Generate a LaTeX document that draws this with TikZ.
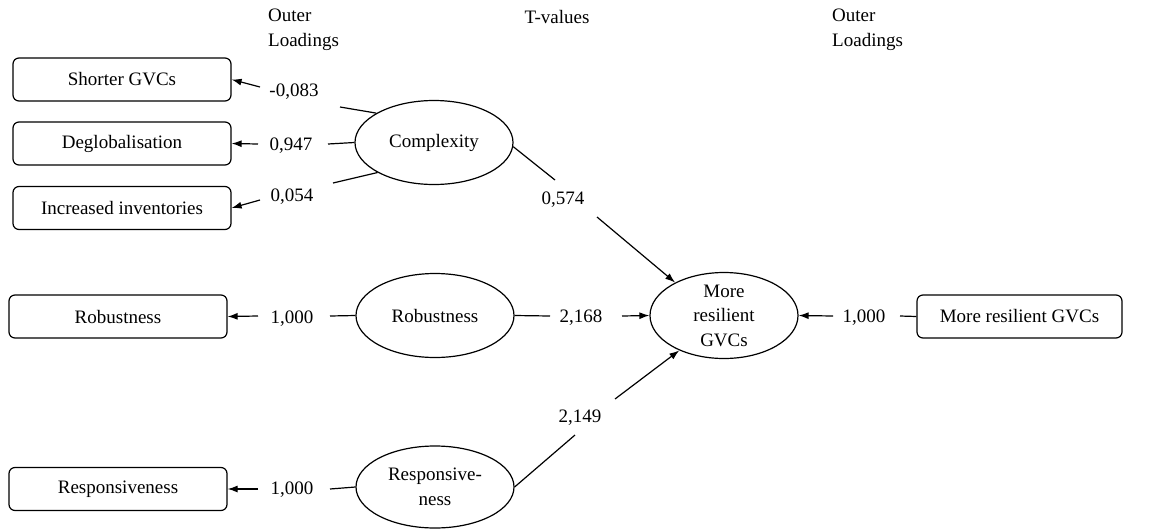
\documentclass[tikz,border=0pt]{standalone}
\usepackage{fontspec}
\setmainfont{Liberation Serif}
\usetikzlibrary{shapes.geometric,arrows.meta}
\begin{document}
\begin{tikzpicture}[x=1pt,y=-1pt,
  every node/.style={font=\fontsize{19}{24.5}\selectfont, text=black},
  ind/.style={draw, rounded corners=6pt, line width=1.2pt, minimum width=218pt, minimum height=43pt, inner sep=0pt},
  lat/.style={draw, ellipse, line width=1.2pt, minimum width=158pt, minimum height=84pt, inner sep=0pt, align=center},
  val/.style={inner sep=0pt},
  conn/.style={line width=1.2pt},
  arr/.style={line width=1.2pt, -{Latex[length=10pt,width=7pt]}}
]
\useasboundingbox (0,0) rectangle (1154,528);

% indicator boxes
\node[ind] (b1) at (122,79.5) {Shorter GVCs};
\node[ind] (b2) at (122,143.5) {Deglobalisation};
\node[ind] (b3) at (122,208) {Increased inventories};
\node[ind] (b4) at (118,316.5) {Robustness};
\node[ind] (b5) at (118,489) {Responsiveness};
\node[ind, minimum width=205pt] (b6) at (1019.5,316.5) {More resilient GVCs};

% latent variables
\node[lat] (cx) at (434,142.5) {Complexity};
\node[lat] (rb) at (435,315.5) {Robustness};
\node[lat, minimum height=82pt] (rs) at (435,487) {Responsive-\\ness};
\node[lat, minimum width=148pt, minimum height=86pt] (mr) at (724,315.5) {};
\node[align=center, inner sep=0pt] (mrt) at (mr.center) {More\\resilient\\GVCs};

% headers
\node[align=left, anchor=west, inner sep=0pt] (ol1) at (268,30) {Outer\\Loadings};
\node[inner sep=0pt] (tv) at (557,17) {T-values};
\node[align=left, anchor=west, inner sep=0pt] (ol2) at (832,30) {Outer\\Loadings};

% values
\node[val] (v1) at (294,92) {-0,083};
\node[val] (v2) at (291,146) {0,947};
\node[val] (v3) at (292,197) {0,054};
\node[val] (v4) at (292,319) {1,000};
\node[val] (v5) at (292,490) {1,000};
\node[val] (v6) at (563,200) {0,574};
\node[val] (v7) at (581,318) {2,168};
\node[val] (v8) at (580,418) {2,149};
\node[val] (v9) at (864,318) {1,000};

% connector break points
\coordinate (c1a) at (340,107); \coordinate (c1b) at (260,87);
\coordinate (c2a) at (328,144); \coordinate (c2b) at (258,144);
\coordinate (c3a) at (333,183); \coordinate (c3b) at (260,200);
\coordinate (c4a) at (330,316); \coordinate (c4b) at (258,316);
\coordinate (c5a) at (330,489); \coordinate (c5b) at (258,489);
\coordinate (c6a) at (555,180); \coordinate (c6b) at (597,217);
\coordinate (c7a) at (550,316); \coordinate (c7b) at (622,316);
\coordinate (c8a) at (575,435); \coordinate (c8b) at (615,399);
\coordinate (c9a) at (900,316); \coordinate (c9b) at (833,316);

% connectors
\draw[conn] (cx.153) -- (c1a); \draw[arr] (c1b) -- (b1.east);
\draw[conn] (cx.west) -- (c2a); \draw[arr] (c2b) -- (b2.east);
\draw[conn] (cx.208) -- (c3a); \draw[arr] (c3b) -- (b3.east);
\draw[conn] (rb.west) -- (c4a); \draw[arr] (c4b) -- (b4.east);
\draw[conn] (rs.west) -- (c5a); \draw[arr] (c5b) -- (b5.east);
\draw[conn] (cx.-3) -- (c6a); \draw[arr] (c6b) -- (mr.146);
\draw[conn] (rb.east) -- (c7a); \draw[arr] (c7b) -- (mr.west);
\draw[conn] (rs.east) -- (c8a); \draw[arr] (c8b) -- (mr.218);
\draw[conn] (b6.west) -- (c9a); \draw[arr] (c9b) -- (mr.east);
\end{tikzpicture}
\end{document}
